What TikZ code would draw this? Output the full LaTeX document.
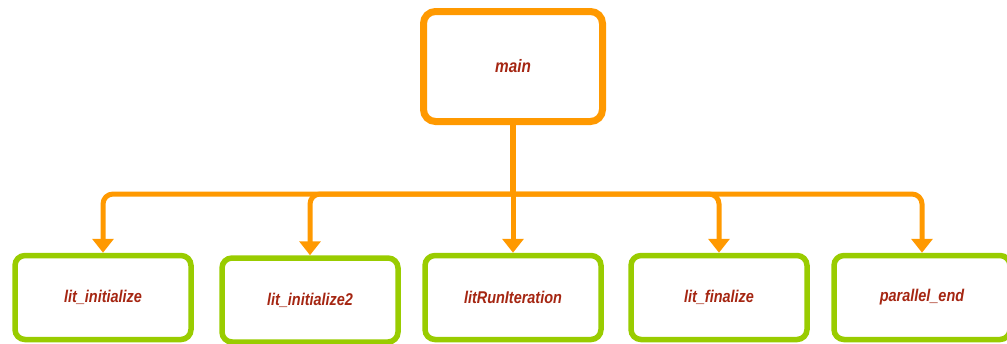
\documentclass[tikz,border=0pt]{standalone}
\usepackage{fontspec}
\setmainfont{Liberation Sans}[FakeStretch=0.85]
\usepackage{tikz}
\usetikzlibrary{positioning}
\usetikzlibrary{arrows.meta}
\usepackage{xcolor}

\definecolor{callorange}{RGB}{255,153,0}
\definecolor{callgreen}{RGB}{153,204,0}
\definecolor{callred}{RGB}{165,38,18}

\begin{document}
\begin{tikzpicture}[x=1pt,y=-1pt,
  caller/.style={draw=callorange, line width=7pt, rounded corners=12pt, fill=white,
    minimum width=179pt, minimum height=110pt, text=callred,
    font=\fontsize{18}{20}\selectfont\bfseries\itshape},
  callee/.style={draw=callgreen, line width=5.5pt, rounded corners=10pt, fill=white,
    minimum width=176pt, minimum height=84pt, text=callred,
    font=\fontsize{17}{20}\selectfont\bfseries\itshape},
  trunk/.style={callorange, line width=5.5pt},
  branch/.style={callorange, line width=5pt, rounded corners=10pt,
    -{Triangle[width=21pt,length=14pt]}}]

\useasboundingbox (0,0) rectangle (1007,343);

% TOP %
\node[caller] (main) at (513,66.5) {main};

% called routines
\node[callee] (init)     at (103,297.5) {lit\_initialize};
\node[callee] (init2)    at (310,300) {lit\_initialize2};
\node[callee] (runiter)  at (513,297.5) {litRunIteration};
\node[callee] (finalize) at (719,297.5) {lit\_finalize};
\node[callee] (parend)   at (922,297.5) {parallel\_end};

% connectors
\coordinate (split) at (513,194);
\draw[trunk] (main.south) -- (split);

\draw[branch] (split) -| (init.north);
\draw[branch] (split) -| (init2.north);
\draw[branch] (split) -- (runiter.north);
\draw[branch] (split) -| (finalize.north);
\draw[branch] (split) -| (parend.north);

\end{tikzpicture}
\end{document}
